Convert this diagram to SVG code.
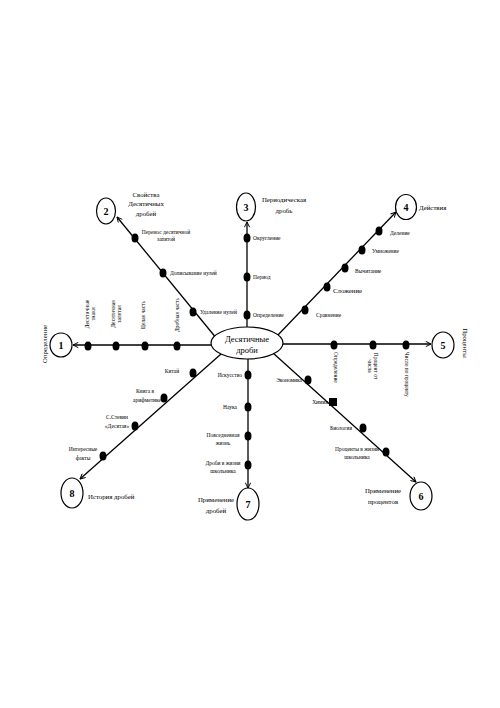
<svg xmlns="http://www.w3.org/2000/svg" width="500" height="708" viewBox="0 0 500 708">
<defs>
<marker id="arr" viewBox="0 0 8 8" refX="7.5" refY="4" markerWidth="6" markerHeight="6" markerUnits="userSpaceOnUse" orient="auto">
<path d="M0.5,0.5 L7.5,4 L0.5,7.5" fill="none" stroke="#000" stroke-width="1.3"/>
</marker>
<style>
.ln{stroke:#000;stroke-width:1.3;fill:none}
.dot{fill:#000}
.cir{fill:#fff;stroke:#000;stroke-width:1.2}
.num{font-family:"Liberation Serif",serif;font-size:10px;font-weight:bold;text-anchor:middle}
.lb{font-family:"Liberation Serif",serif;font-size:5.5px;fill:#000}
.tt{font-family:"Liberation Serif",serif;font-size:6.8px;fill:#000}
.ct{font-family:"Liberation Serif",serif;font-size:8.5px;text-anchor:middle}
.m{text-anchor:middle}
.e{text-anchor:end}
</style>
</defs>
<rect width="500" height="708" fill="#fff"/>
<g id="connectors">
<line class="ln" x1="211" y1="345" x2="73" y2="345" marker-end="url(#arr)"/>
<line class="ln" x1="217" y1="339" x2="117" y2="217" marker-end="url(#arr)"/>
<line class="ln" x1="247" y1="327" x2="247" y2="222" marker-end="url(#arr)"/>
<line class="ln" x1="277" y1="336" x2="396" y2="212" marker-end="url(#arr)"/>
<line class="ln" x1="283" y1="344" x2="431" y2="344" marker-end="url(#arr)"/>
<line class="ln" x1="273" y1="353" x2="416" y2="482" marker-end="url(#arr)"/>
<line class="ln" x1="248" y1="359" x2="248" y2="488" marker-end="url(#arr)"/>
<line class="ln" x1="221" y1="354" x2="80" y2="479" marker-end="url(#arr)"/>
</g>
<g id="center">
<ellipse class="cir" cx="247" cy="343" rx="36" ry="16"/>
<text class="ct" x="247" y="342">Десятичные</text>
<text class="ct" x="247" y="353">дроби</text>
</g>
<g id="n1">
<ellipse class="cir" cx="61" cy="345" rx="11" ry="12"/>
<text class="num" x="61" y="349">1</text>
<text class="tt m" transform="translate(47,344) rotate(-90)">Определение</text>
<ellipse class="dot" cx="88" cy="346" rx="3.5" ry="4.5"/>
<ellipse class="dot" cx="116" cy="346" rx="3.5" ry="4.5"/>
<ellipse class="dot" cx="145" cy="346" rx="3.5" ry="4.5"/>
<ellipse class="dot" cx="177" cy="346" rx="3.5" ry="4.5"/>
<text class="lb m" transform="translate(89,314) rotate(-90)">Десятичные</text>
<text class="lb m" transform="translate(95,314) rotate(-90)">знаки</text>
<text class="lb m" transform="translate(115,314) rotate(-90)">Десятичная</text>
<text class="lb m" transform="translate(121,314) rotate(-90)">запятая</text>
<text class="lb m" transform="translate(145,315) rotate(-90)">Целая часть</text>
<text class="lb m" transform="translate(179,315) rotate(-90)">Дробная часть</text>
</g>
<g id="n2">
<ellipse class="cir" cx="106" cy="211" rx="9.5" ry="13"/>
<text class="num" x="106" y="215">2</text>
<text class="tt m" x="146" y="197">Свойства</text>
<text class="tt m" x="146" y="206">Десятичных</text>
<text class="tt m" x="146" y="216">дробей</text>
<ellipse class="dot" cx="135" cy="238" rx="3.5" ry="4.5"/>
<ellipse class="dot" cx="163" cy="273" rx="3.5" ry="4.5"/>
<ellipse class="dot" cx="193" cy="312" rx="3.5" ry="4.5"/>
<text class="lb m" x="166" y="234">Перенос десятичной</text>
<text class="lb m" x="166" y="241">запятой</text>
<text class="lb" x="170" y="275">Дописывание нулей</text>
<text class="lb" x="200" y="314">Удаление нулей</text>
</g>
<g id="n3">
<ellipse class="cir" cx="246" cy="207" rx="9.5" ry="14"/>
<text class="num" x="246" y="211">3</text>
<text class="tt m" x="284" y="202">Периодическая</text>
<text class="tt m" x="284" y="213">дробь</text>
<ellipse class="dot" cx="247" cy="238" rx="3.5" ry="4.5"/>
<ellipse class="dot" cx="247" cy="277" rx="3.5" ry="4.5"/>
<ellipse class="dot" cx="247" cy="315" rx="3.5" ry="4.5"/>
<text class="lb" x="253" y="240">Округление</text>
<text class="lb" x="253" y="279">Период</text>
<text class="lb" x="253" y="317">Определение</text>
</g>
<g id="n4">
<ellipse class="cir" cx="406" cy="207" rx="10.5" ry="12.5"/>
<text class="num" x="406" y="211">4</text>
<text class="tt" x="419" y="210">Действия</text>
<ellipse class="dot" cx="379" cy="231" rx="3.5" ry="4.5"/>
<ellipse class="dot" cx="362" cy="250" rx="3.5" ry="4.5"/>
<ellipse class="dot" cx="345" cy="268" rx="3.5" ry="4.5"/>
<ellipse class="dot" cx="327" cy="287" rx="3.5" ry="4.5"/>
<ellipse class="dot" cx="305" cy="310" rx="3.5" ry="4.5"/>
<text class="lb" x="390" y="235">Деление</text>
<text class="lb" x="372" y="253">Умножение</text>
<text class="lb" x="355" y="273">Вычитание</text>
<text class="tt" x="333" y="293">Сложение</text>
<text class="lb" x="316" y="317">Сравнение</text>
</g>
<g id="n5">
<ellipse class="cir" cx="443" cy="345" rx="11" ry="13"/>
<text class="num" x="443" y="349">5</text>
<text class="tt m" transform="translate(463,343) rotate(90)">Проценты</text>
<ellipse class="dot" cx="334" cy="345" rx="3.5" ry="4.5"/>
<ellipse class="dot" cx="373" cy="345" rx="3.5" ry="4.5"/>
<ellipse class="dot" cx="406" cy="345" rx="3.5" ry="4.5"/>
<text class="lb" transform="translate(334,352) rotate(90)">Определение</text>
<text class="lb m" transform="translate(374,366) rotate(90)">Процент от</text>
<text class="lb m" transform="translate(368,366) rotate(90)">числа</text>
<text class="lb" transform="translate(405,352) rotate(90)">Число по проценту</text>
</g>
<g id="n6">
<ellipse class="cir" cx="421" cy="496" rx="11" ry="14"/>
<text class="num" x="421" y="500">6</text>
<text class="tt m" x="383" y="493">Применение</text>
<text class="tt m" x="383" y="504">процентов</text>
<ellipse class="dot" cx="308" cy="380" rx="3.5" ry="4.5"/>
<rect class="dot" x="329" y="398" width="8" height="8"/>
<ellipse class="dot" cx="363" cy="428" rx="3.5" ry="4.5"/>
<ellipse class="dot" cx="386" cy="452" rx="3.5" ry="4.5"/>
<text class="lb e" x="302" y="382">Экономика</text>
<text class="lb e" x="328" y="404">Химия</text>
<text class="lb e" x="352" y="430">Биология</text>
<text class="lb m" x="357" y="451">Проценты в жизни</text>
<text class="lb m" x="357" y="459">школьника</text>
</g>
<g id="n7">
<ellipse class="cir" cx="248" cy="504" rx="11" ry="16"/>
<text class="num" x="248" y="508">7</text>
<text class="tt m" x="216" y="502">Применение</text>
<text class="tt m" x="216" y="513">дробей</text>
<ellipse class="dot" cx="248" cy="375" rx="3.5" ry="4.5"/>
<ellipse class="dot" cx="248" cy="407" rx="3.5" ry="4.5"/>
<ellipse class="dot" cx="248" cy="436" rx="3.5" ry="4.5"/>
<ellipse class="dot" cx="248" cy="465" rx="3.5" ry="4.5"/>
<text class="lb e" x="242" y="377">Искусство</text>
<text class="lb m" x="230" y="409">Наука</text>
<text class="lb m" x="223" y="437">Повседневная</text>
<text class="lb m" x="223" y="445">жизнь</text>
<text class="lb m" x="223" y="465">Дроби в жизни</text>
<text class="lb m" x="223" y="473">школьника</text>
</g>
<g id="n8">
<ellipse class="cir" cx="72" cy="493" rx="11" ry="15"/>
<text class="num" x="72" y="497">8</text>
<text class="tt" x="88" y="499">История дробей</text>
<ellipse class="dot" cx="193" cy="373" rx="3.5" ry="4.5"/>
<ellipse class="dot" cx="164" cy="398" rx="3.5" ry="4.5"/>
<ellipse class="dot" cx="135" cy="426" rx="3.5" ry="4.5"/>
<ellipse class="dot" cx="103" cy="456" rx="3.5" ry="4.5"/>
<text class="lb m" x="172" y="373">Китай</text>
<text class="lb m" x="145" y="393">Книга в</text>
<text class="lb m" x="147" y="402">арифметике</text>
<text class="lb m" x="117" y="419">С.Стевин</text>
<text class="lb m" x="117" y="428">«Десятая»</text>
<text class="lb m" x="83" y="451">Интересные</text>
<text class="lb m" x="83" y="460">факты</text>
</g>
</svg>
